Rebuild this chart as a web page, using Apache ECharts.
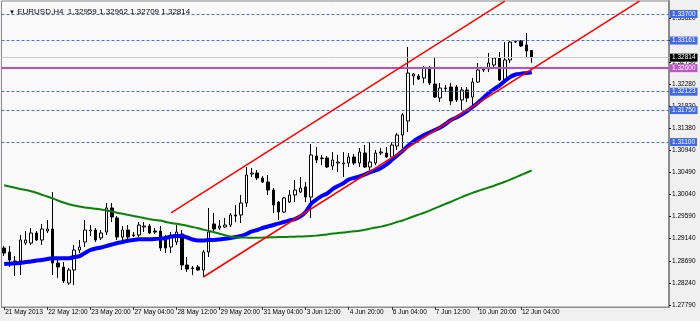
<!DOCTYPE html>
<html><head><meta charset="utf-8">
<script src="https://cdn.jsdelivr.net/npm/echarts@6/dist/echarts.min.js"></script>
<style>html,body{margin:0;padding:0;background:#f0f0f0}#c{width:700px;height:321px}</style>
</head><body><div id="c"></div>
<script>
const symbolName = 'EURUSD,H4';
const xLabels = ['21 May 2013','22 May 12:00','23 May 20:00','27 May 04:00','28 May 12:00','29 May 20:00','31 May 04:00','3 Jun 12:00','4 Jun 20:00','6 Jun 04:00','7 Jun 12:00','10 Jun 20:00','12 Jun 04:00'];
const labelStep = 8;      // bars between time labels
const slotCount = 124;    // visible bar slots (incl. empty right margin)

const opens = [1.28950,1.28868,1.28686,1.28686,1.29051,1.29051,1.29254,1.29112,1.29295,1.29335,
1.28645,1.28564,1.28239,1.28503,1.28909,1.29071,1.29295,1.29315,1.29153,1.29274,
1.29762,1.29559,1.29173,1.29315,1.29214,1.29214,1.29376,1.29396,1.29295,1.29295,
1.29132,1.28970,1.29071,1.29234,1.28604,1.28544,1.28564,1.28503,1.28868,1.29437,
1.29356,1.29376,1.29416,1.29620,1.29620,1.29863,1.30452,1.30472,1.30371,1.30289,
1.30127,1.29883,1.29680,1.29883,1.30026,1.30086,1.30188,1.29985,1.30817,1.30777,
1.30777,1.30614,1.30675,1.30655,1.30675,1.30797,1.30675,1.30878,1.30594,1.30675,
1.30878,1.30878,1.30797,1.31020,1.31244,1.31528,1.32441,1.32441,1.32401,1.32604,
1.32279,1.31995,1.32198,1.32218,1.32218,1.31954,1.32157,1.32015,1.32319,1.32563,
1.32583,1.32665,1.32807,1.32360,1.32766,1.33131,1.33152,1.33071,1.32959];
const highs = [1.28990,1.28990,1.28787,1.29214,1.29295,1.29356,1.29295,1.29437,1.29518,1.30086,
1.28747,1.28665,1.28544,1.29011,1.29112,1.29518,1.29416,1.29356,1.29315,1.29863,
1.29863,1.29599,1.29396,1.29416,1.29274,1.29477,1.29477,1.29437,1.29356,1.29396,
1.29214,1.29274,1.29416,1.29315,1.28767,1.28584,1.28604,1.28909,1.29762,1.29660,
1.29518,1.29559,1.29660,1.29823,1.30026,1.30594,1.30574,1.30533,1.30411,1.30432,
1.30168,1.29904,1.29985,1.30127,1.30330,1.30391,1.30289,1.31061,1.31000,1.30838,
1.30817,1.30898,1.30838,1.30898,1.30878,1.30858,1.30980,1.31041,1.31101,1.30939,
1.30980,1.31000,1.31101,1.31284,1.31690,1.33030,1.32502,1.32482,1.32644,1.32644,
1.32827,1.32299,1.32259,1.32299,1.32259,1.32218,1.32218,1.32401,1.32705,1.32624,
1.32908,1.32827,1.32928,1.33131,1.33152,1.33162,1.33172,1.33314,1.32962];
const lows = [1.28787,1.28564,1.28381,1.28402,1.29011,1.29011,1.29092,1.29011,1.29254,1.28402,
1.28341,1.28239,1.28199,1.28199,1.28848,1.28970,1.29193,1.29071,1.29112,1.29214,
1.29477,1.29112,1.29112,1.29112,1.29173,1.29173,1.29274,1.29234,1.29234,1.28889,
1.28848,1.28848,1.29011,1.28503,1.28462,1.28402,1.28483,1.28361,1.28767,1.29274,
1.29315,1.29356,1.29376,1.29477,1.29457,1.29782,1.30391,1.30330,1.30269,1.30026,
1.29660,1.29518,1.29660,1.29863,1.29883,1.30066,1.29883,1.29559,1.30675,1.30635,
1.30574,1.30533,1.30492,1.30391,1.30594,1.30635,1.30594,1.30574,1.30533,1.30635,
1.30838,1.30777,1.30777,1.30939,1.30980,1.31304,1.32259,1.32360,1.32299,1.32259,
1.31995,1.31913,1.32116,1.31853,1.31913,1.31751,1.31913,1.31812,1.32299,1.32522,
1.32522,1.32624,1.32340,1.32319,1.32705,1.33111,1.33030,1.32807,1.32709];
const closes = [1.28848,1.28706,1.28625,1.29112,1.29112,1.29254,1.29112,1.29335,1.29335,1.28645,
1.28564,1.28280,1.28503,1.28909,1.28970,1.29315,1.29315,1.29112,1.29254,1.29762,
1.29579,1.29173,1.29315,1.29173,1.29204,1.29416,1.29396,1.29254,1.29274,1.28950,
1.28950,1.29193,1.29274,1.28604,1.28523,1.28533,1.28503,1.28868,1.29274,1.29335,
1.29396,1.29416,1.29620,1.29599,1.29863,1.30432,1.30472,1.30371,1.30289,1.30127,
1.29823,1.29680,1.29965,1.30026,1.30127,1.30168,1.29985,1.30838,1.30736,1.30766,
1.30594,1.30736,1.30695,1.30675,1.30797,1.30675,1.30898,1.30594,1.30695,1.30878,
1.30898,1.30797,1.31041,1.31244,1.31650,1.32502,1.32482,1.32380,1.32604,1.32299,
1.32015,1.32198,1.32188,1.31934,1.31954,1.32157,1.31995,1.32319,1.32563,1.32583,
1.32705,1.32807,1.32360,1.32766,1.33131,1.33141,1.33050,1.32949,1.32814];
const fastMA = [1.28625,1.28631,1.28639,1.28645,1.28665,1.28676,1.28696,1.28706,1.28726,1.28741,
1.28741,1.28741,1.28741,1.28767,1.28787,1.28848,1.28909,1.28939,1.28960,1.28990,
1.29021,1.29051,1.29071,1.29098,1.29112,1.29126,1.29126,1.29126,1.29132,1.29142,
1.29153,1.29183,1.29193,1.29193,1.29163,1.29122,1.29102,1.29102,1.29112,1.29112,
1.29122,1.29138,1.29153,1.29173,1.29193,1.29234,1.29285,1.29315,1.29356,1.29386,
1.29416,1.29451,1.29477,1.29508,1.29538,1.29589,1.29680,1.29843,1.29934,1.30005,
1.30056,1.30147,1.30208,1.30263,1.30340,1.30371,1.30401,1.30442,1.30492,1.30523,
1.30574,1.30645,1.30736,1.30827,1.30919,1.31020,1.31112,1.31183,1.31244,1.31294,
1.31345,1.31396,1.31467,1.31548,1.31599,1.31660,1.31731,1.31812,1.31899,1.31995,
1.32096,1.32177,1.32248,1.32340,1.32421,1.32472,1.32488,1.32502,1.32516];
const slowMA = [1.30224,1.30198,1.30174,1.30147,1.30127,1.30101,1.30070,1.30032,1.29995,1.29956,
1.29914,1.29873,1.29837,1.29812,1.29792,1.29772,1.29760,1.29745,1.29733,1.29711,
1.29689,1.29666,1.29646,1.29622,1.29599,1.29579,1.29557,1.29536,1.29518,1.29508,
1.29479,1.29457,1.29441,1.29423,1.29400,1.29376,1.29352,1.29323,1.29297,1.29270,
1.29240,1.29209,1.29183,1.29165,1.29163,1.29161,1.29159,1.29159,1.29161,1.29165,
1.29167,1.29171,1.29173,1.29177,1.29179,1.29183,1.29187,1.29191,1.29201,1.29214,
1.29226,1.29243,1.29254,1.29264,1.29279,1.29289,1.29301,1.29321,1.29343,1.29364,
1.29384,1.29410,1.29443,1.29477,1.29509,1.29548,1.29589,1.29628,1.29666,1.29709,
1.29753,1.29800,1.29845,1.29889,1.29936,1.29983,1.30026,1.30070,1.30107,1.30143,
1.30178,1.30214,1.30253,1.30294,1.30338,1.30384,1.30432,1.30478,1.30525];

const yTicks = [1.27790,1.28240,1.28690,1.29140,1.29590,1.30040,1.30490,1.30940,1.31380,1.31830,1.32280,1.32730,1.33170,1.33620];
const yMin = 1.27752, yMax = 1.33964;
const dashedLevels = [1.33700,1.33161,1.32123,1.31750,1.31100];
const purpleLevel = 1.32600;
const channelLower = [[37,1.28361],[118,1.33962]];
const channelUpper = [[31,1.29662],[93,1.33962]];

const FONT = 'Liberation Sans';
const last = closes.length - 1;
const slots = Array.from({length: slotCount}, (_, i) => String(i));
const showLabel = (i) => i % labelStep === 0 && (i / labelStep) < xLabels.length;

const boxLabel = (bg) => ({
  show: true, position: 'end', distance: 1, fontSize: 6.5, fontFamily: FONT,
  color: '#fff', backgroundColor: bg, padding: [1, 2, 0, 2],
  formatter: p => Number(p.value).toFixed(5)
});

const markData = [];
dashedLevels.forEach(v => markData.push({yAxis: v, lineStyle: {color: '#4a6fe3', type: [3, 2], width: 1}, label: boxLabel('#4169e1')}));
markData.push({yAxis: closes[last], lineStyle: {color: '#c9c9c9', type: 'solid', width: 1}, label: boxLabel('#000')});
markData.push({yAxis: purpleLevel, lineStyle: {color: '#b84fc6', type: 'solid', width: 2}, label: boxLabel('#c055c8')});
[channelLower, channelUpper].forEach(ch => markData.push([
  {coord: ch[0], lineStyle: {color: '#ff0000', type: 'solid', width: 1.5}, label: {show: false}},
  {coord: ch[1]}
]));

const chart = echarts.init(document.getElementById('c'), null, {renderer: 'canvas'});
chart.setOption({
  animation: false,
  backgroundColor: '#f0f0f0',
  title: {
    text: '{tri|▼} ' + symbolName + '  ' + [opens, highs, lows, closes].map(a => a[last].toFixed(5)).join(' '),
    left: 4, top: 3,
    textStyle: {fontSize: 8, fontWeight: 'normal', color: '#000', fontFamily: FONT, rich: {tri: {fontSize: 6, color: '#000'}}}
  },
  grid: {left: 1.5, right: 31, top: 1, bottom: 14, show: true, backgroundColor: '#f9f9f9', borderColor: '#8c8c8c', borderWidth: 1},
  xAxis: {
    type: 'category', data: slots, boundaryGap: true,
    axisLine: {show: true, lineStyle: {color: '#8c8c8c', width: 1}},
    axisTick: {show: true, alignWithLabel: true, interval: (i) => showLabel(i), length: 3, lineStyle: {color: '#333'}},
    axisLabel: {interval: (i) => showLabel(i), formatter: (v, i) => xLabels[i / labelStep], align: 'left',
      fontSize: 6.5, fontFamily: FONT, color: '#000', margin: 2, padding: [0, 0, 0, 1]},
    splitLine: {show: false}
  },
  yAxis: {
    type: 'value', position: 'right', min: yMin, max: yMax, scale: true,
    splitLine: {show: false},
    axisLine: {show: true, lineStyle: {color: '#8c8c8c', width: 2}},
    axisTick: {show: true, customValues: yTicks, length: 2, lineStyle: {color: '#000'}},
    axisLabel: {customValues: yTicks, formatter: v => v.toFixed(5), fontSize: 6.5, fontFamily: FONT, color: '#000', margin: 3}
  },
  series: [
    {
      type: 'candlestick', z: 2, barWidth: 3,
      data: opens.map((o, i) => [o, closes[i], lows[i], highs[i]]),
      itemStyle: {color: '#ffffff', color0: '#000000', borderColor: '#000000', borderColor0: '#000000', borderWidth: 1}
    },
    {
      type: 'line', z: 3, data: fastMA, showSymbol: false, smooth: 0.3,
      lineStyle: {color: '#0000ff', width: 4}
    },
    {
      type: 'line', z: 4, data: slowMA, showSymbol: false, smooth: 0.3, clip: false,
      lineStyle: {color: '#0a820a', width: 2},
      markLine: {symbol: ['none', 'none'], silent: true, animation: false, precision: 5, data: markData}
    }
  ]
});
</script></body></html>
